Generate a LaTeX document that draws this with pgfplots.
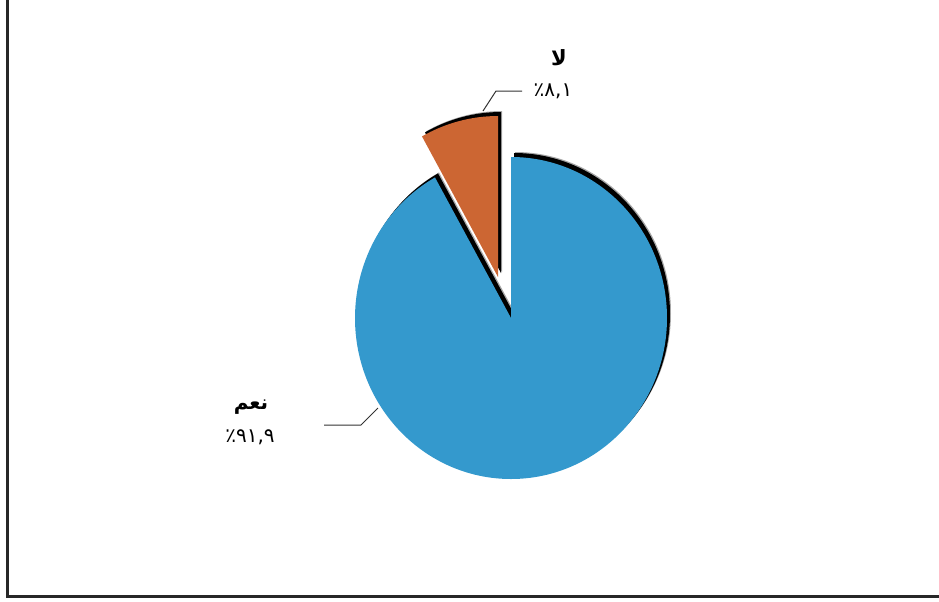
\documentclass[border=0pt]{standalone}
\usepackage{pgfplots}
\pgfplotsset{compat=1.18}
\usepackage{pgfplotstable}
\usepackage{fontspec}
\TeXXeTstate=1
\newfontfamily\arabicfont[Script=Arabic]{DejaVu Sans}
\definecolor{sliceblue}{RGB}{52,153,205}
\definecolor{sliceorange}{RGB}{204,102,51}
\definecolor{framegray}{RGB}{40,40,40}
\pgfplotstableread{
label value
yes 91.9
no 8.1
}\piedata
\begin{document}
\begin{tikzpicture}
\useasboundingbox (0,0) rectangle (469.5pt,300.5pt);
\pgfplotstablegetelem{0}{value}\of\piedata \let\valyes\pgfplotsretval
\pgfplotstablegetelem{1}{value}\of\piedata \let\valno\pgfplotsretval
\pgfmathsetmacro\endyes{90-3.6*\valyes}
\pgfmathsetmacro\endno{90+3.6*\valno}
\begin{axis}[at={(0,0)}, anchor=south west, width=469.5pt, height=300.5pt,
  scale only axis, xmin=0, xmax=939, ymin=0, ymax=601, y dir=reverse,
  hide axis, clip=false]
% soft shadows
\fill[black, opacity=0.35] (axis cs:515,313) -- +(0,80.5pt) arc[start angle=90, end angle=\endyes, x radius=78pt, y radius=80.5pt] -- cycle;
\fill[black, opacity=0.35] (axis cs:502,272) -- +(0,80.5pt) arc[start angle=90, end angle=\endno, x radius=78pt, y radius=80.5pt] -- cycle;
\fill[black] (axis cs:514,314) -- +(0,80.5pt) arc[start angle=90, end angle=\endyes, x radius=78pt, y radius=80.5pt] -- cycle;
\fill[black] (axis cs:501,273) -- +(0,80.5pt) arc[start angle=90, end angle=\endno, x radius=78pt, y radius=80.5pt] -- cycle;
% slices
\fill[sliceblue] (axis cs:511,318) -- +(0,80.5pt) arc[start angle=90, end angle=\endyes, x radius=78pt, y radius=80.5pt] -- cycle;
\fill[sliceorange] (axis cs:498,277) -- +(0,80.5pt) arc[start angle=90, end angle=\endno, x radius=78pt, y radius=80.5pt] -- cycle;
% leader lines
\draw[black!80, line width=0.5pt] (axis cs:483,111) -- (axis cs:496,91) -- (axis cs:522,91);
\draw[black!80, line width=0.5pt] (axis cs:378,408) -- (axis cs:361,425) -- (axis cs:324,425);
% labels
\node[font=\arabicfont\bfseries\fontsize{10.5}{12}\selectfont] at (axis cs:559,58) {\beginR لا\endR};
\node[font=\arabicfont\fontsize{10}{12}\selectfont] at (axis cs:553,91) {\beginR\beginL ٨,١\endL ٪\endR};
\node[font=\arabicfont\bfseries\fontsize{10}{12}\selectfont] at (axis cs:251,407) {\beginR نعم\endR};
\node[font=\arabicfont\fontsize{10}{12}\selectfont] at (axis cs:250,437) {\beginR\beginL ٩١,٩\endL ٪\endR};
% frame
\draw[framegray, line width=1.5pt] (axis cs:7.5,-1.8) rectangle (axis cs:960,596.5);
\end{axis}
\end{tikzpicture}
\end{document}
